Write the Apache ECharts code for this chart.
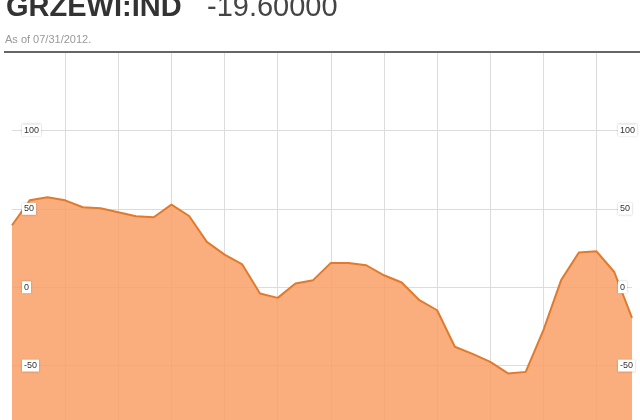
<!DOCTYPE html>
<html>
<head>
<meta charset="utf-8">
<script src="https://cdn.jsdelivr.net/npm/echarts@6/dist/echarts.min.js"></script>
<style>html,body{margin:0;padding:0;background:#fff;overflow:hidden;}#c{width:640px;height:444px;}</style>
</head>
<body>
<div id="c"></div>
<script>
var categories = ['2009-08','2009-09','2009-10','2009-11','2009-12','2010-01','2010-02','2010-03','2010-04','2010-05','2010-06','2010-07','2010-08','2010-09','2010-10','2010-11','2010-12','2011-01','2011-02','2011-03','2011-04','2011-05','2011-06','2011-07','2011-08','2011-09','2011-10','2011-11','2011-12','2012-01','2012-02','2012-03','2012-04','2012-05','2012-06','2012-07'];
var values = [39.5, 55.4, 57.3, 55.4, 51, 50.3, 47.8, 45.2, 44.6, 52.7, 45.4, 28.9, 20.8, 14.5, -4, -6.8, 2.4, 4.5, 15.5, 15.5, 14, 7.6, 3, -8.3, -14.7, -38, -42.5, -47.6, -55, -54, -27.4, 4.5, 22.1, 22.9, 9.7, -19.6];
var tickValues = [-100, -50, 0, 50, 100, 150];
var tickerName = 'GRZEWI:IND';
var lastValue = '-19.60000';
var asOf = 'As of 07/31/2012.';

var font = 'Arial, "Liberation Sans", sans-serif';
var chart = echarts.init(document.getElementById('c'), null, {renderer: 'canvas'});
var yMin = tickValues[0], yMax = tickValues[tickValues.length - 1];
function labelAxis(pos, margin) {
  return {
    type: 'value', min: yMin, max: yMax, interval: 50, position: pos, z: 5,
    axisLine: {show: false}, axisTick: {show: false}, splitLine: {show: false},
    axisLabel: {
      inside: true, margin: margin, align: 'left',
      showMinLabel: false, showMaxLabel: false,
      fontFamily: font, fontSize: 9, color: '#333',
      backgroundColor: '#fff', padding: [2, 2, 1, 2],
      shadowBlur: 2, shadowColor: 'rgba(0,0,0,0.25)'
    }
  };
}
chart.setOption({
  animation: false,
  grid: {left: 12, right: 8, top: 52, bottom: 0},
  xAxis: {
    type: 'category',
    data: categories,
    boundaryGap: false,
    axisLine: {show: false},
    axisTick: {show: false},
    axisLabel: {show: false},
    splitLine: {
      show: true,
      interval: function (i) { return i > 0 && i % 3 === 0; },
      lineStyle: {color: '#dcdcdc', width: 1}
    }
  },
  yAxis: [
    {
      type: 'value', min: yMin, max: yMax, interval: 50, position: 'left', z: 0,
      axisLine: {show: false}, axisTick: {show: false}, axisLabel: {show: false},
      splitLine: {show: true, lineStyle: {color: '#dcdcdc', width: 1}}
    },
    labelAxis('left', 10),
    labelAxis('right', 14)
  ],
  series: [{
    type: 'line',
    data: values,
    symbol: 'none',
    z: 2,
    lineStyle: {color: '#E07A2E', width: 2},
    areaStyle: {origin: 'start', color: '#F9A168', opacity: 0.86}
  }],
  graphic: [
    {type: 'text', left: 6, top: -7, z: 10, style: {text: tickerName, font: 'bold 29px ' + font, fill: '#333'}},
    {type: 'text', left: 207, top: -7, z: 10, style: {text: lastValue, font: '29px ' + font, fill: '#444'}},
    {type: 'text', left: 5, top: 34, z: 10, style: {text: asOf, font: '11px ' + font, fill: '#999'}},
    {type: 'line', z: 10, shape: {x1: 4, y1: 52, x2: 640, y2: 52}, style: {stroke: '#666', lineWidth: 2}}
  ]
});
</script>
</body>
</html>
